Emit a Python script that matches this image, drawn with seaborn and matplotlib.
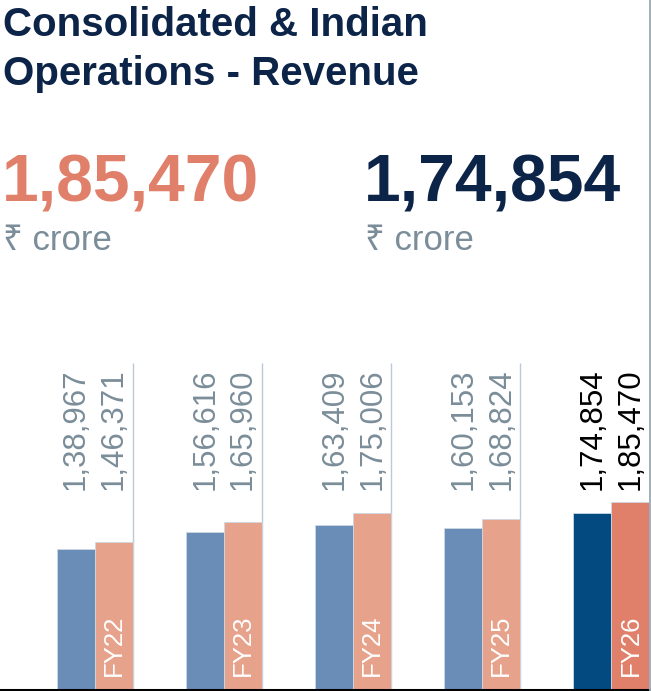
import pandas as pd
import matplotlib.pyplot as plt
import seaborn as sns
from matplotlib.lines import Line2D

sns.set_theme(style="white")
plt.rcParams['font.family'] = ['Liberation Sans', 'Noto Sans', 'DejaVu Sans']

# datos
years = ['FY22', 'FY23', 'FY24', 'FY25', 'FY26']
indian = [138967, 156616, 163409, 160153, 174854]
consolidated = [146371, 165960, 175006, 168824, 185470]
indian_labels = ['1,38,967', '1,56,616', '1,63,409', '1,60,153', '1,74,854']
consol_labels = ['1,46,371', '1,65,960', '1,75,006', '1,68,824', '1,85,470']
headline_consol = '1,85,470'
headline_indian = '1,74,854'
unit = '₹ crore'
title_lines = ['Consolidated & Indian', 'Operations - Revenue']

df = pd.DataFrame({
    'year': years * 2,
    'serie': ['Indian'] * len(years) + ['Consolidated'] * len(years),
    'valor': indian + consolidated,
})

NAVY = '#0c2448'
SALMON = '#e0806a'
GRIS = '#7a8d99'

W, H = 651, 691
fig = plt.figure(figsize=(W / 100, H / 100), dpi=100)
ax = fig.add_axes([0, 1.5 / H, 650 / W, (689.5 - 363) / H])

sns.barplot(
    data=df, x='year', y='valor', hue='serie',
    hue_order=['Indian', 'Consolidated'],
    palette={'Indian': '#6a8db7', 'Consolidated': '#e7a28b'},
    saturation=1, width=0.588, gap=0, legend=False, ax=ax,
    edgecolor='#cdd8e3', linewidth=0.6,
)

# ultimo año resaltado
ax.containers[0][-1].set_facecolor('#034a80')
ax.containers[1][-1].set_facecolor(SALMON)

ax.set_xlim(-0.736, 4.299)
ax.set_ylim(0, 323700)
ax.set_xlabel('')
ax.set_ylabel('')
ax.set_xticks([])
ax.set_yticks([])
for s in ['top', 'left', 'right']:
    ax.spines[s].set_visible(False)
ax.spines['bottom'].set_color('black')
ax.spines['bottom'].set_linewidth(2.2)

# separadores entre años
ax.vlines([i + 0.294 for i in range(len(years) - 1)], 0, 323700,
          color='#bccad8', linewidth=1, zorder=0)

# etiquetas de valores
for i, (bi, bc) in enumerate(zip(ax.containers[0], ax.containers[1])):
    col = 'black' if i == len(years) - 1 else GRIS
    for bar, txt in [(bi, indian_labels[i]), (bc, consol_labels[i])]:
        ax.text(bar.get_x() + bar.get_width() / 2, 197600, txt,
                rotation=90, ha='center', va='bottom', fontsize=22.5, color=col)
    ax.text(bc.get_x() + bc.get_width() / 2, 13000, years[i],
            rotation=90, ha='center', va='bottom', fontsize=18.5, color='white')

# linea derecha
fig.add_artist(Line2D([649.8 / W] * 2, [0, 1], color='#9ba8b3', linewidth=1.3))

# textos superiores
def px(x, y):
    return x / W, (H - y) / H

fig.text(*px(3, 36), title_lines[0], fontsize=29, fontweight='bold', color=NAVY, va='baseline')
fig.text(*px(3, 85), title_lines[1], fontsize=29, fontweight='bold', color=NAVY, va='baseline')
fig.text(*px(2, 201), headline_consol, fontsize=47.5, fontweight='bold', color=SALMON, va='baseline')
fig.text(*px(364, 201), headline_indian, fontsize=47.5, fontweight='bold', color=NAVY, va='baseline')
fig.text(*px(3, 250), unit, fontsize=25, color=GRIS, va='baseline')
fig.text(*px(365, 250), unit, fontsize=25, color=GRIS, va='baseline')

fig.savefig('out.png', dpi=100)
